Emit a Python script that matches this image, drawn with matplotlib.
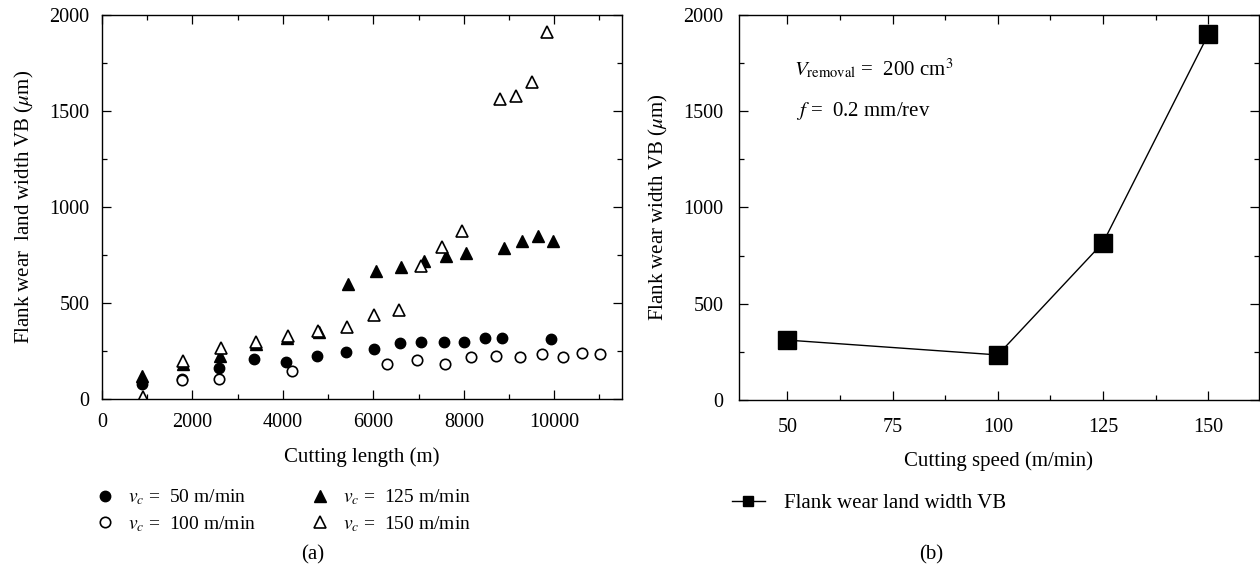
import matplotlib
matplotlib.use('Agg')
import matplotlib.pyplot as plt
from matplotlib.ticker import MultipleLocator

plt.rcParams['font.family'] = ['Liberation Serif', 'DejaVu Serif']
plt.rcParams['mathtext.fontset'] = 'stix'
plt.rcParams['font.size'] = 14.5

# (a) flank wear vs cutting length, one series per cutting speed
len_50 = [880, 1760, 2590, 3370, 4070, 4760, 5390, 6005, 6578, 7055, 7563, 8009, 8458, 8850, 9934]
vb_50 = [80, 105, 160, 208, 194, 227, 245, 261, 290, 295, 297, 295, 316, 318, 311]

len_100 = [1763, 2588, 4190, 6312, 6976, 7582, 8157, 8702, 9248, 9720, 10199, 10620, 11010]
vb_100 = [99, 103, 146, 184, 203, 184, 217, 227, 220, 234, 220, 241, 233]

len_125 = [885, 1780, 2600, 3400, 4100, 4800, 5450, 6060, 6615, 7120, 7615, 8055, 8900, 9277, 9640, 9963]
vb_125 = [120, 185, 224, 285, 320, 350, 597, 667, 686, 720, 744, 762, 788, 824, 849, 824]

len_150 = [900, 1800, 2620, 3400, 4110, 4780, 5410, 6025, 6560, 7060, 7515, 7970, 8790, 9160, 9505, 9850]
vb_150 = [12, 198, 264, 295, 328, 354, 373, 437, 465, 693, 790, 877, 1561, 1578, 1651, 1911]

# (b) flank wear after 200 cm^3 removed
speeds = [50, 100, 125, 150]
vb_speed = [311, 234, 817, 1898]

fig = plt.figure(figsize=(12.6, 5.71), dpi=100)
ax1 = fig.add_axes([0.081, 0.301, 0.4127, 0.673])
ax2 = fig.add_axes([0.5865, 0.2995, 0.4125, 0.6745])

ms = 7.5
ax1.plot(len_50, vb_50, 'o', color='black', ms=ms, label=r'$v_c$ =  50 m/min')
ax1.plot(len_100, vb_100, 'o', mfc='white', mec='black', mew=1.2, ms=ms, label=r'$v_c$ =  100 m/min')
ax1.plot(len_125, vb_125, '^', color='black', ms=ms + 1, label=r'$v_c$ =  125 m/min')
ax1.plot(len_150, vb_150, '^', mfc='white', mec='black', mew=1.2, ms=ms + 1, label=r'$v_c$ =  150 m/min')

ax1.set_xlim(0, 11500)
ax1.set_ylim(0, 2000)
ax1.xaxis.set_major_locator(MultipleLocator(2000))
ax1.xaxis.set_minor_locator(MultipleLocator(1000))
ax1.yaxis.set_major_locator(MultipleLocator(500))
ax1.yaxis.set_minor_locator(MultipleLocator(250))
ax1.set_xlabel('Cutting length (m)', labelpad=11, fontsize=15)
ax1.set_ylabel(r'Flank wear  land width VB ($\mu$m)', labelpad=10, fontsize=15)
ax1.tick_params(axis='x', pad=10)
ax1.tick_params(axis='y', pad=9)

ax2.plot(speeds, vb_speed, '-s', color='black', lw=1.0, ms=13, label='Flank wear land width VB')
ax2.set_xlim(38.5, 162)
ax2.set_ylim(0, 2000)
ax2.xaxis.set_major_locator(MultipleLocator(25))
ax2.xaxis.set_minor_locator(MultipleLocator(12.5))
ax2.yaxis.set_major_locator(MultipleLocator(500))
ax2.yaxis.set_minor_locator(MultipleLocator(250))
ax2.set_xlabel('Cutting speed (m/min)', labelpad=10, fontsize=15)
ax2.set_ylabel(r'Flank wear width VB ($\mu$m)', labelpad=10, fontsize=15)
ax2.tick_params(axis='x', pad=13)
ax2.tick_params(axis='y', pad=11)
ax2.text(0.105, 0.842, r'$V_{\mathrm{removal}}$ =  200 cm$^3$', transform=ax2.transAxes, fontsize=15)
ax2.text(0.11, 0.737, r'$f$ =  0.2 mm/rev', transform=ax2.transAxes, fontsize=15)

for ax in (ax1, ax2):
    ax.tick_params(which='both', direction='in', top=True, right=True, labelsize=14.5)
    ax.tick_params(which='major', length=6.5, width=0.9)
    ax.tick_params(which='minor', length=3.5, width=0.9)
    for s in ax.spines.values():
        s.set_linewidth(1.0)

ax1.legend(loc='upper left', bbox_to_anchor=(-0.04, -0.185), ncol=2, frameon=False,
           handlelength=0.6, handletextpad=0.9, columnspacing=3.0, labelspacing=0.35, fontsize=14)
ax2.legend(loc='upper left', bbox_to_anchor=(-0.05, -0.195), frameon=False,
           handlelength=1.6, handletextpad=0.9, fontsize=15, markerscale=0.55)

fig.text(0.248, 0.02, '(a)', ha='center', fontsize=15)
fig.text(0.739, 0.02, '(b)', ha='center', fontsize=15)

fig.savefig('out.png', dpi=100)
